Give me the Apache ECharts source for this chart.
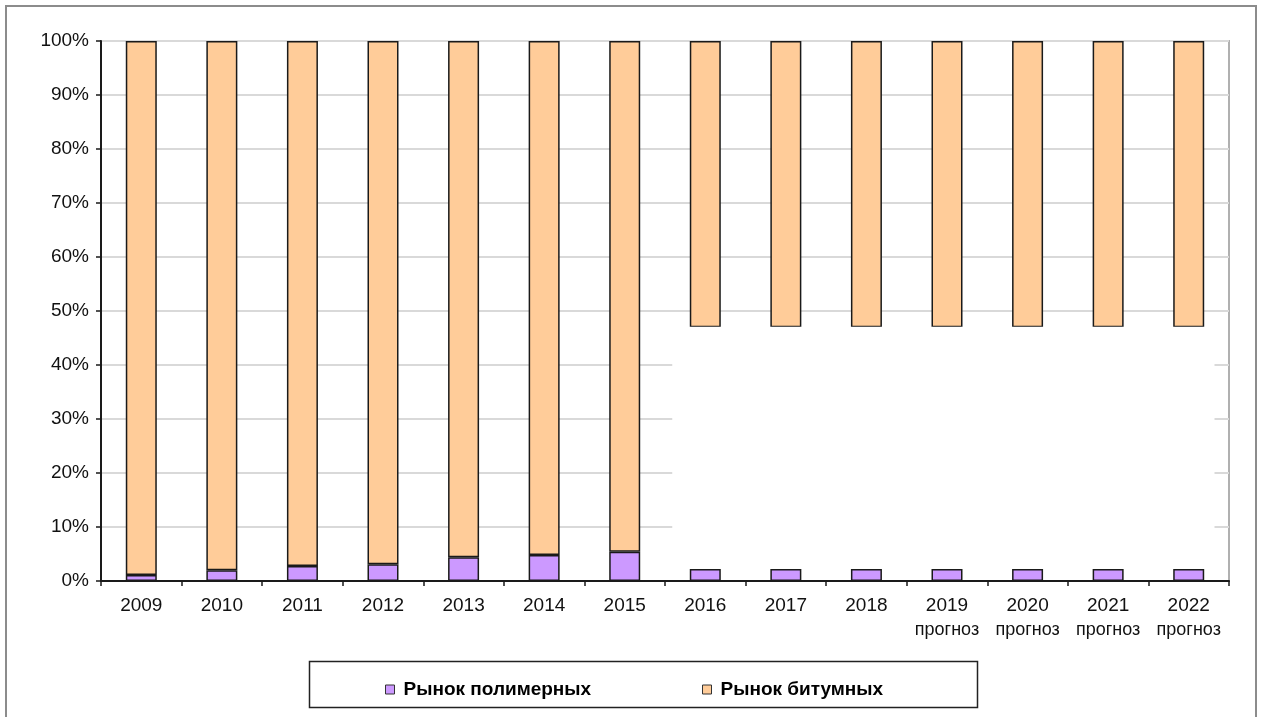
<!DOCTYPE html>
<html>
<head>
<meta charset="utf-8">
<script src="https://cdn.jsdelivr.net/npm/echarts@6/dist/echarts.min.js"></script>
<style>
html,body{margin:0;padding:0;background:#fff;}
#chart{width:1263px;height:717px;}
</style>
</head>
<body>
<div id="chart"></div>
<script>
// ---- data ----
var years = ['2009','2010','2011','2012','2013','2014','2015','2016','2017','2018','2019','2020','2021','2022'];
var subLabels = ['','','','','','','','','','','прогноз','прогноз','прогноз','прогноз'];
var polymerShare = [1.1, 2.0, 2.8, 3.1, 4.4, 4.8, 5.4, 2.2, 2.2, 2.2, 2.2, 2.2, 2.2, 2.2];
var gapShare     = [0, 0, 0, 0, 0, 0, 0, 44.8, 44.8, 44.8, 44.8, 44.8, 44.8, 44.8];
var bitumenShare = [98.9, 98.0, 97.2, 96.9, 95.6, 95.2, 94.6, 53.0, 53.0, 53.0, 53.0, 53.0, 53.0, 53.0];
var seriesNames = ['Рынок полимерных', 'Рынок битумных'];
var yTicks = { min: 0, max: 100, interval: 10 };

var FONT = '"Liberation Sans", Arial, sans-serif';
var chart = echarts.init(document.getElementById('chart'), null, { renderer: 'canvas' });

var barBorder = { borderColor: '#1a1a1a', borderWidth: 1.5 };

var legendText = { fontFamily: FONT, fontSize: 19, fontWeight: 'bold', color: '#000', padding: [0,0,0,4] };

var option = {
  animation: false,
  backgroundColor: '#ffffff',
  grid: { left: 101, right: 34, top: 41, bottom: 136, show: true, borderColor: '#b0b0b0', borderWidth: 2, backgroundColor: 'transparent' },
  legend: [
    { data: [seriesNames[0]], left: 380, top: 675, icon: 'rect', itemWidth: 9, itemHeight: 9,
      itemStyle: { borderColor: '#333', borderWidth: 1 }, textStyle: legendText },
    { data: [seriesNames[1]], left: 697, top: 675, icon: 'rect', itemWidth: 9, itemHeight: 9,
      itemStyle: { borderColor: '#333', borderWidth: 1 }, textStyle: legendText }
  ],
  xAxis: {
    type: 'category',
    data: years,
    boundaryGap: true,
    axisLine: { lineStyle: { color: '#1a1a1a', width: 2 } },
    axisTick: { show: true, length: 5, lineStyle: { color: '#1a1a1a', width: 1.5 } },
    axisLabel: {
      margin: 12,
      interval: 0,
      formatter: function (v, i) {
        return subLabels[i] ? '{y|' + v + '}\n{s|' + subLabels[i] + '}' : '{y|' + v + '}';
      },
      rich: {
        y: { fontFamily: FONT, fontSize: 19, color: '#111', lineHeight: 25 },
        s: { fontFamily: FONT, fontSize: 18, color: '#111', lineHeight: 25 }
      }
    },
    splitLine: { show: false }
  },
  yAxis: {
    type: 'value',
    min: yTicks.min, max: yTicks.max, interval: yTicks.interval,
    axisLine: { show: true, lineStyle: { color: '#1a1a1a', width: 2 } },
    axisTick: { show: true, length: 5, lineStyle: { color: '#1a1a1a', width: 1.5 } },
    axisLabel: { margin: 12, formatter: '{value}%', fontFamily: FONT, fontSize: 19, color: '#111' },
    splitLine: { show: true, lineStyle: { color: '#d9d9d9', width: 2 } }
  },
  series: [
    { name: seriesNames[0], type: 'bar', stack: 'share', barWidth: 31, data: polymerShare,
      itemStyle: Object.assign({ color: '#cc99ff' }, barBorder), z: 3 },
    { name: 'gap', type: 'bar', stack: 'share', barWidth: 31, data: gapShare,
      itemStyle: { color: 'rgba(0,0,0,0)', borderWidth: 0 }, silent: true, z: 3 },
    { name: seriesNames[1], type: 'bar', stack: 'share', barWidth: 31, data: bitumenShare,
      itemStyle: Object.assign({ color: '#ffcc99' }, barBorder), z: 3 }
  ]
};
chart.setOption(option);

// decorations computed through the chart's own scales
var c2016 = chart.convertToPixel({ xAxisIndex: 0 }, '2016');
var c2017 = chart.convertToPixel({ xAxisIndex: 0 }, '2017');
var c2022 = chart.convertToPixel({ xAxisIndex: 0 }, '2022');
var band = c2017 - c2016;
var yTop = chart.convertToPixel({ yAxisIndex: 0 }, 47);
var yBot = chart.convertToPixel({ yAxisIndex: 0 }, 3);
var x0 = c2016 - 0.41 * band;
var x1 = c2022 + 0.32 * band;

chart.setOption({
  graphic: [
    { id: 'mask', type: 'rect', z: 50, silent: true,
      shape: { x: x0, y: yTop - 0.5, width: x1 - x0, height: yBot - yTop },
      style: { fill: '#ffffff' } },
    { id: 'legendBox', type: 'rect', z: 1, silent: true,
      shape: { x: 309.5, y: 661.5, width: 668, height: 46 },
      style: { fill: 'none', stroke: '#222', lineWidth: 1.5 } },
    { id: 'outer', type: 'rect', z: 1, silent: true,
      shape: { x: 6, y: 6, width: 1250, height: 730 },
      style: { fill: 'none', stroke: '#8c8c8c', lineWidth: 2 } }
  ]
});
</script>
</body>
</html>
